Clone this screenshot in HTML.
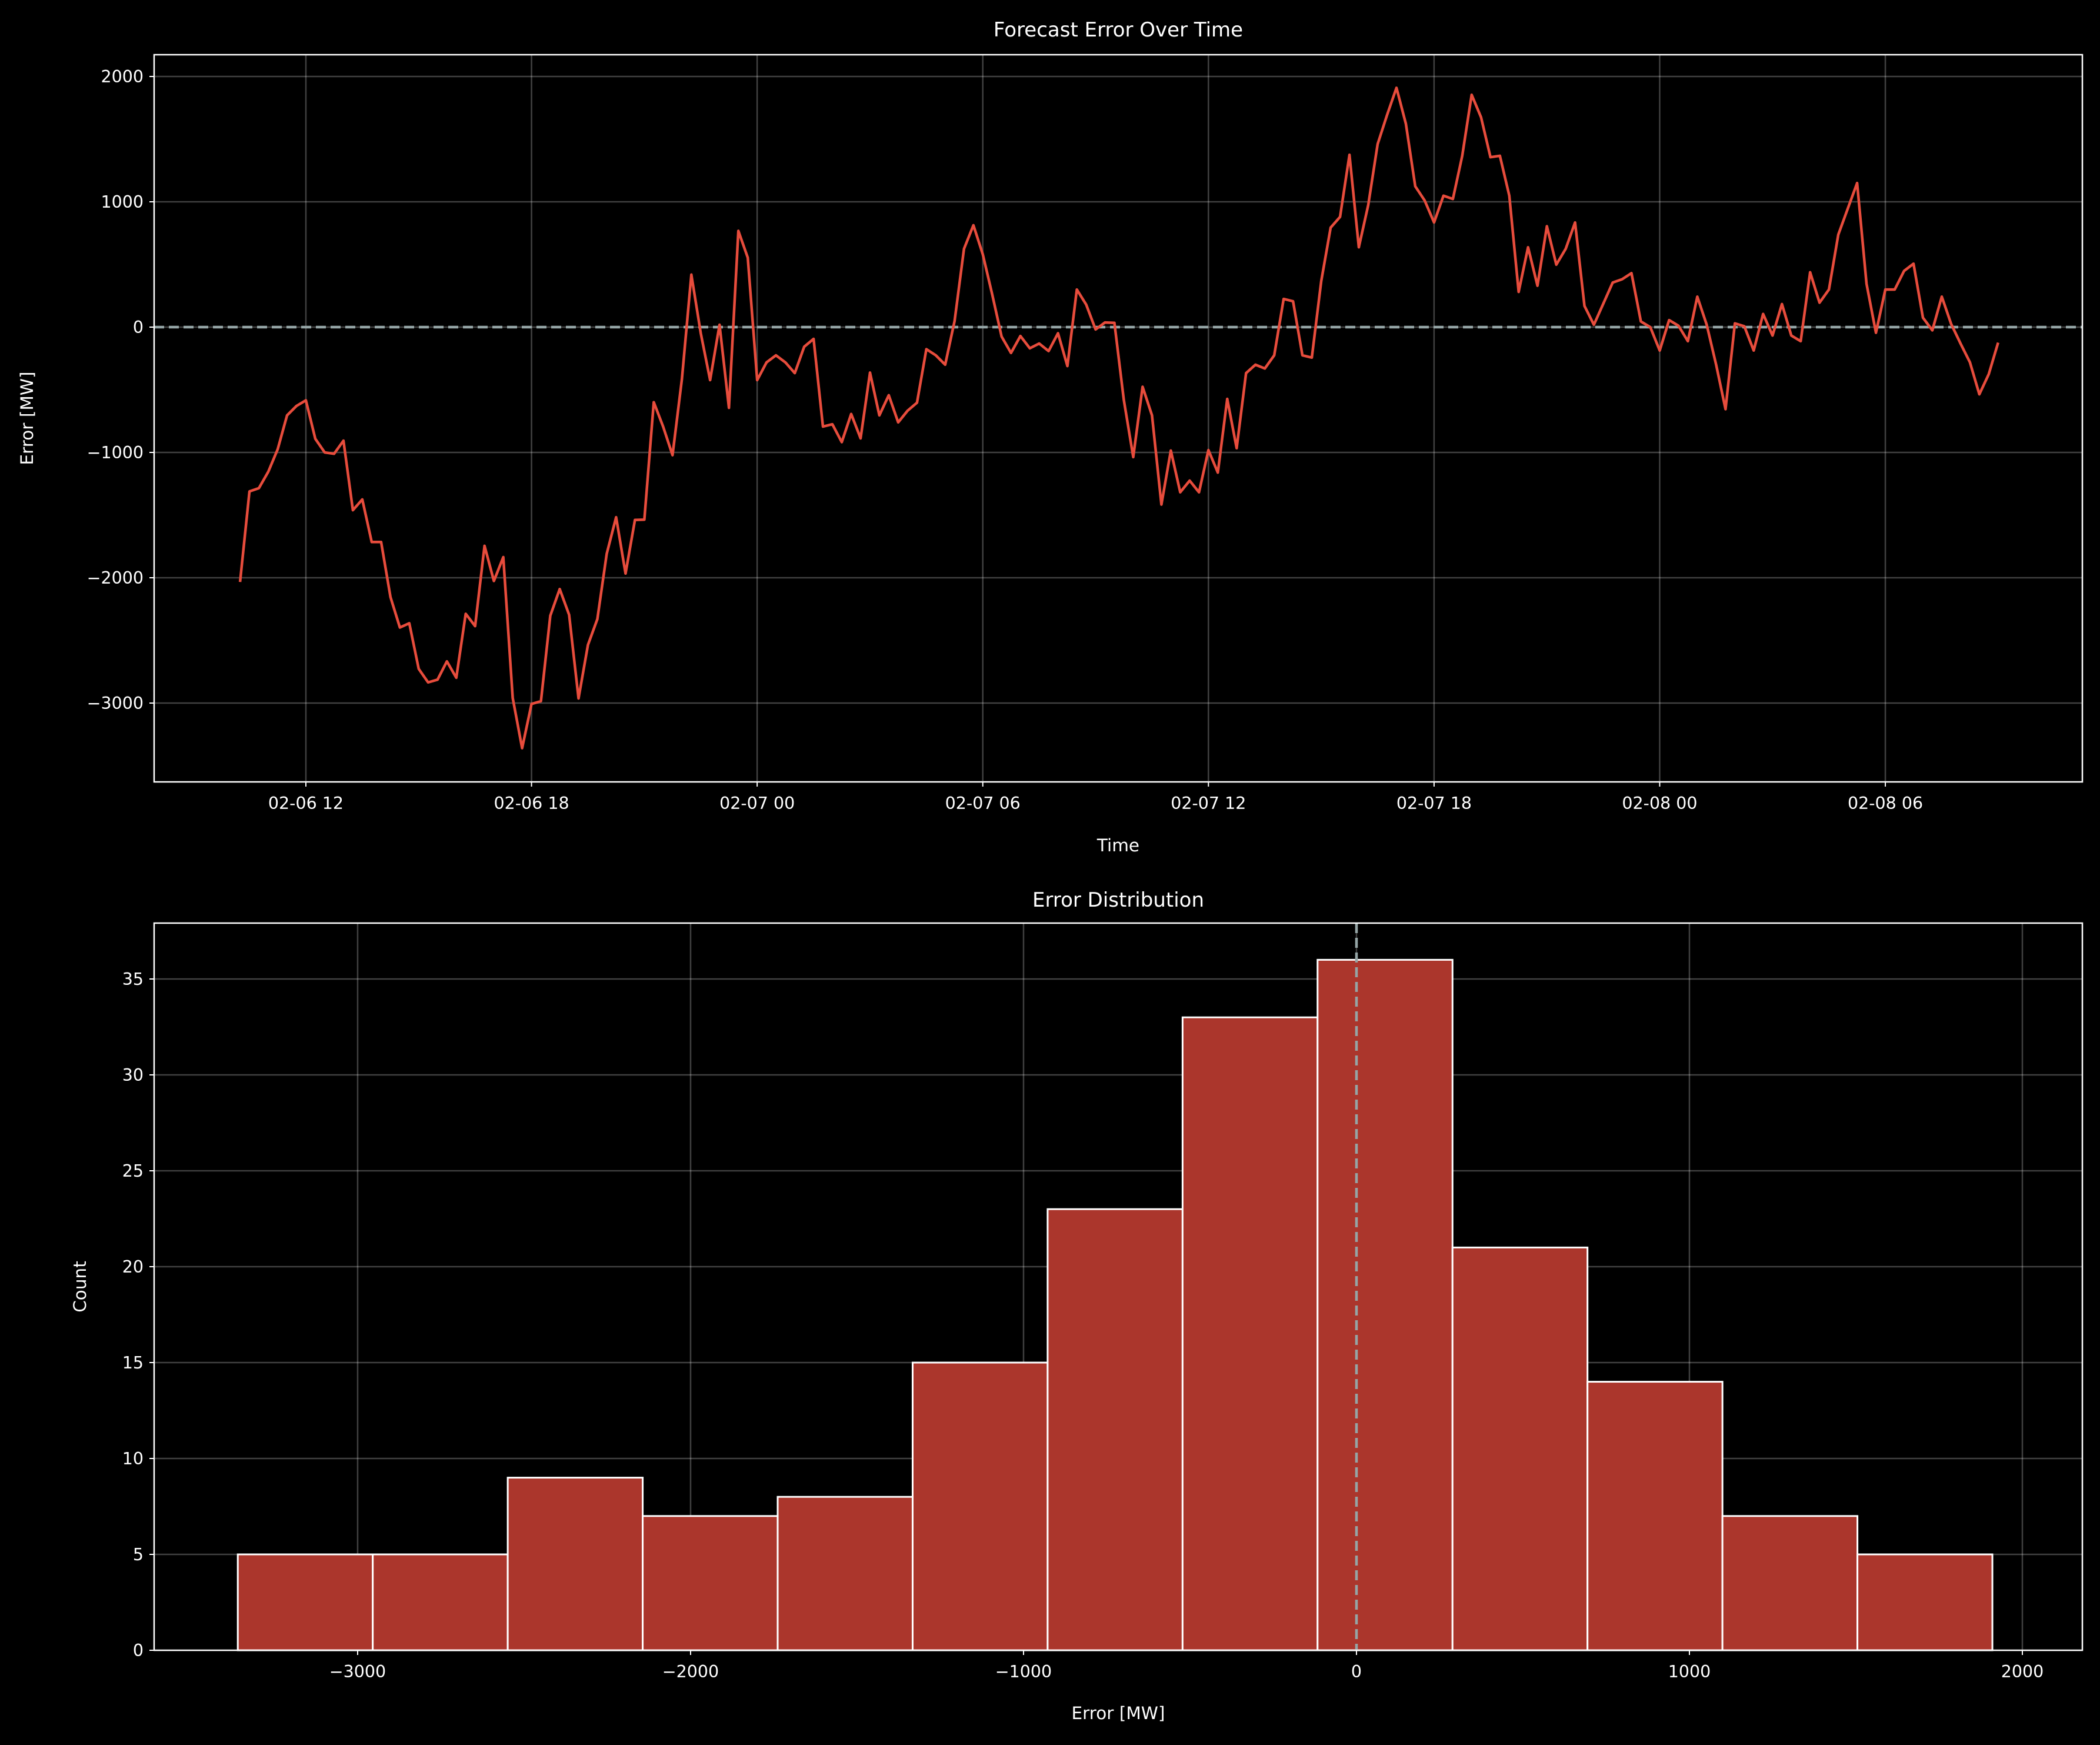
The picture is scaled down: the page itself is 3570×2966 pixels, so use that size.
<!DOCTYPE html>
<html><head><meta charset="utf-8"><style>
html,body{margin:0;padding:0;background:#000;}
svg{display:block;}
text{font-family:"DejaVu Sans","Liberation Sans",sans-serif;fill:#fff;}
</style></head><body>
<svg id="chart" width="3570" height="2966" viewBox="0 0 3570 2966" xmlns="http://www.w3.org/2000/svg">
<rect width="3570" height="2966" fill="#000"/>
<g id="topPanel"></g>
<g id="botPanel"></g>
</svg>
<script>
// ---- data ----
const startHour = 10.25; // 02-06 10:15
const stepHours = 0.25;
const errorValues = [-2034,-1311,-1285,-1154,-974,-704,-629,-584,-891,-1000,-1011,-906,-1461,-1375,-1715,-1715,-2154,-2397,-2363,-2727,-2835,-2813,-2667,-2798,-2288,-2386,-1745,-2026,-1835,-2959,-3360,-3007,-2985,-2303,-2090,-2296,-2963,-2536,-2330,-1809,-1517,-1966,-1539,-1536,-599,-794,-1022,-412,419,-49,
-423,19,-644,768,554,-423,-281,-225,-281,-367,-157,-94,-794,-775,-918,-693,-888,-363,-704,-543,-760,-667,-603,-176,-225,-300,49,625,813,581,262,-75,-206,-71,-169,-131,-191,-49,-311,300,180,-19,37,34,-581,-1037,-476,
-704,-1416,-985,-1318,-1225,-1318,-981,-1161,-573,-966,-367,-300,-330,-225,225,206,-225,-243,367,794,880,1375,637,974,1461,1693,1910,1622,1124,1011,835,1049,1022,1367,1854,1674,1356,1367,1049,281,637,330,805,498,625,835,169,
19,187,356,382,431,45,0,-187,56,11,-112,243,19,-300,-655,30,7,-187,105,-67,184,-67,-112,438,195,300,738,944,1150,345,-45,300,300,449,506,75,-26,243,26,-131,-281,-536,-375,-124];
const timeTickHours = [12,18,24,30,36,42,48,54];
const timeTickLabels = ["02-06 12","02-06 18","02-07 00","02-07 06","02-07 12","02-07 18","02-08 00","02-08 06"];
const errTicks = [2000,1000,0,-1000,-2000,-3000];
const histCounts = [5,5,9,7,8,15,23,33,36,21,14,7,5];
const binStart = -3360;
const binEnd = 1910;
const histXTicks = [-3000,-2000,-1000,0,1000,2000];
const countTicks = [0,5,10,15,20,25,30,35];

const NS="http://www.w3.org/2000/svg";
function mk(parent,tag,attrs,txt){const e=document.createElementNS(NS,tag);for(const k in attrs)e.setAttribute(k,attrs[k]);if(txt!==undefined)e.textContent=txt;parent.appendChild(e);return e;}
function minus(v){return v<0?"\u2212"+Math.abs(v):String(v);}

// ---- top panel ----
const topG=document.getElementById('topPanel');
const T={l:262,r:3540,t:93,b:1329};
const tx=h=>520+(h-12)*63.93;
const ty=v=>556-v*0.2130;
timeTickHours.forEach((h,i)=>{
  let g=mk(topG,'line',{x1:tx(h),x2:tx(h),y1:T.t,y2:T.b,stroke:'rgba(255,255,255,0.25)','stroke-width':2.5});
  
  
  let tk=mk(topG,'line',{x1:tx(h),x2:tx(h),y1:T.b,y2:T.b+8,stroke:'#fff','stroke-width':2});
  
  
  let t=mk(topG,'text',{x:tx(h),y:T.b+46,'font-size':28.5,'text-anchor':'middle'},timeTickLabels[i]);
  
  
});
errTicks.forEach(v=>{
  let g=mk(topG,'line',{x1:T.l,x2:T.r,y1:ty(v),y2:ty(v),stroke:'rgba(255,255,255,0.25)','stroke-width':2.5});
  
  
  let tk=mk(topG,'line',{x1:T.l-8,x2:T.l,y1:ty(v),y2:ty(v),stroke:'#fff','stroke-width':2});
  
  
  let t=mk(topG,'text',{x:T.l-18,y:ty(v)+10,'font-size':28.5,'text-anchor':'end'},minus(v));
  
  
});
let zl=mk(topG,'line',{x1:T.l,x2:T.r,y1:ty(0),y2:ty(0),stroke:'#95a5a6','stroke-width':4.5,'stroke-dasharray':'17,8'});


let pts=errorValues.map((v,i)=>tx(startHour+i*stepHours).toFixed(1)+','+ty(v).toFixed(1)).join(' ');
let pl=mk(topG,'polyline',{points:pts,fill:'none',stroke:'#e74c3c','stroke-width':4.5,'stroke-linejoin':'round'});


let fr=mk(topG,'rect',{x:T.l,y:T.t,width:T.r-T.l,height:T.b-T.t,fill:'none',stroke:'#fff','stroke-width':2.5});


let tt=mk(topG,'text',{x:(T.l+T.r)/2,y:62,'font-size':34,'text-anchor':'middle'},'Forecast Error Over Time');


let xl=mk(topG,'text',{x:(T.l+T.r)/2,y:1447,'font-size':29.5,'text-anchor':'middle'},'Time');


let yl=mk(topG,'text',{x:0,y:0,'font-size':29.5,'text-anchor':'middle',transform:'translate(56,'+((T.t+T.b)/2)+') rotate(-90)'},'Error [MW]');



// ---- bottom panel ----
const botG=document.getElementById('botPanel');
const B={l:262,r:3540,t:1569,b:2805};
const bx=v=>2306+v*0.566;
const by=c=>2805-c*32.6;
histXTicks.forEach(v=>{
  let g=mk(botG,'line',{x1:bx(v),x2:bx(v),y1:B.t,y2:B.b,stroke:'rgba(255,255,255,0.25)','stroke-width':2.5});
  
  
  let tk=mk(botG,'line',{x1:bx(v),x2:bx(v),y1:B.b,y2:B.b+8,stroke:'#fff','stroke-width':2});
  
  
  let t=mk(botG,'text',{x:bx(v),y:B.b+46,'font-size':28.5,'text-anchor':'middle'},minus(v));
  
  
});
countTicks.forEach(c=>{
  let g=mk(botG,'line',{x1:B.l,x2:B.r,y1:by(c),y2:by(c),stroke:'rgba(255,255,255,0.25)','stroke-width':2.5});
  
  
  let tk=mk(botG,'line',{x1:B.l-8,x2:B.l,y1:by(c),y2:by(c),stroke:'#fff','stroke-width':2});
  
  
  let t=mk(botG,'text',{x:B.l-18,y:by(c)+10,'font-size':28.5,'text-anchor':'end'},String(c));
  
  
});
const bw=(binEnd-binStart)/histCounts.length;
histCounts.forEach((c,i)=>{
  const x0=bx(binStart+i*bw), x1=bx(binStart+(i+1)*bw);
  let r=mk(botG,'rect',{x:x0,y:by(c),width:x1-x0,height:by(0)-by(c),fill:'#ab362c',stroke:'#fff','stroke-width':3});
  
  
});
let vl=mk(botG,'line',{x1:bx(0),x2:bx(0),y1:B.t,y2:B.b,stroke:'#95a5a6','stroke-width':4.5,'stroke-dasharray':'17,8'});


let fr2=mk(botG,'rect',{x:B.l,y:B.t,width:B.r-B.l,height:B.b-B.t,fill:'none',stroke:'#fff','stroke-width':2.5});


let bt=mk(botG,'text',{x:(B.l+B.r)/2,y:1541,'font-size':34,'text-anchor':'middle'},'Error Distribution');


let bxl=mk(botG,'text',{x:(B.l+B.r)/2,y:2922,'font-size':29.5,'text-anchor':'middle'},'Error [MW]');


let byl=mk(botG,'text',{x:0,y:0,'font-size':29.5,'text-anchor':'middle',transform:'translate(146,'+((B.t+B.b)/2)+') rotate(-90)'},'Count');


</script>
</body></html>
